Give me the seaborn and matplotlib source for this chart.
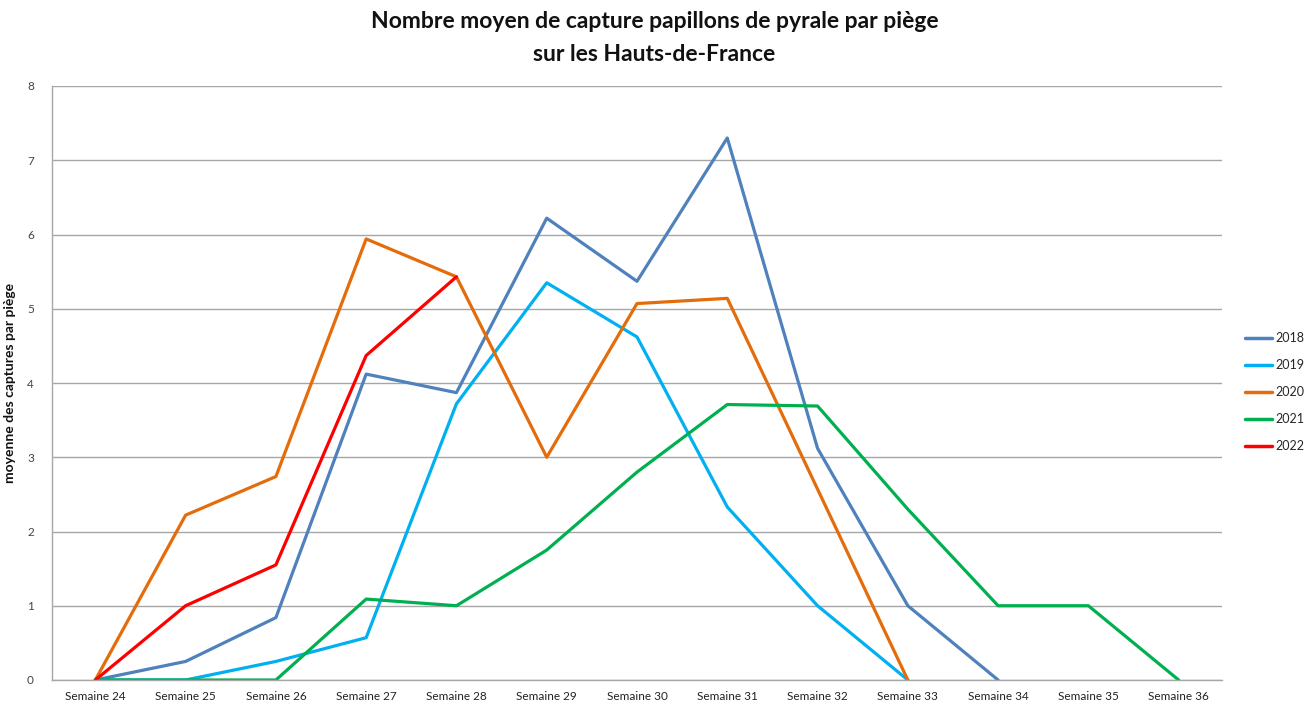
import numpy as np
import pandas as pd
import matplotlib
matplotlib.use('Agg')
import matplotlib.pyplot as plt
import seaborn as sns

# ── DATA ──────────────────────────────────────────────────────────────────────
SEMAINES = [f"Semaine {w}" for w in range(24, 37)]
nan = np.nan
Y2018 = [0, 0.25, 0.84, 4.12, 3.87, 6.22, 5.37, 7.30, 3.12, 1.00, 0, nan, nan]
Y2019 = [0, 0, 0.25, 0.57, 3.72, 5.35, 4.62, 2.33, 1.00, 0, nan, nan, nan]
Y2020 = [0, 2.22, 2.74, 5.94, 5.43, 3.00, 5.07, 5.14, 2.57, 0, nan, nan, nan]
Y2021 = [0, 0, 0, 1.09, 1.00, 1.75, 2.80, 3.71, 3.69, 2.30, 1.00, 1.00, 0]
Y2022 = [0, 1.00, 1.55, 4.37, 5.43, nan, nan, nan, nan, nan, nan, nan, nan]

YEARS = ["2018", "2019", "2020", "2021", "2022"]
COLORS = ["#4F81BD", "#00B0F0", "#E46C0A", "#00B050", "#FF0000"]

series = dict(zip(YEARS, [Y2018, Y2019, Y2020, Y2021, Y2022]))
df = pd.DataFrame([
    {"semaine": i, "annee": yr, "valeur": v}
    for yr, vals in series.items() for i, v in enumerate(vals)
]).dropna()

# ── PLOT ──────────────────────────────────────────────────────────────────────
sns.set_style("white")
plt.rcParams['font.family'] = ['Lato', 'DejaVu Sans']

fig = plt.figure(figsize=(13.09, 7.04), dpi=100)
ax = fig.add_axes([52 / 1309, 1 - 680 / 704, 1170 / 1309, 594 / 704])

sns.lineplot(data=df, x="semaine", y="valeur", hue="annee",
             palette=dict(zip(YEARS, COLORS)), linewidth=2.3,
             estimator=None, sort=False, ax=ax)

ax.set_xlim(-0.48, 12.48)
ax.set_ylim(0, 8)
ax.set_xticks(range(len(SEMAINES)))
ax.set_xticklabels(SEMAINES, fontsize=8.5, color="#222222")
ax.set_yticks(range(0, 9))
ax.set_yticklabels([str(i) for i in range(0, 9)], fontsize=8.5, color="#444444")
ax.tick_params(axis='y', length=5, color="#999999", pad=8)
ax.tick_params(axis='x', length=0, pad=8)
ax.yaxis.grid(True, color="#A6A6A6", linewidth=1.0)
ax.set_axisbelow(True)
for side in ["top", "right"]:
    ax.spines[side].set_visible(False)
for side in ["left", "bottom"]:
    ax.spines[side].set_color("#A6A6A6")
    ax.spines[side].set_linewidth(1.0)

ax.set_xlabel("")
ax.set_ylabel("moyenne des captures par piège", fontsize=10, fontweight='bold',
              labelpad=8, color="#111111")

fig.suptitle("Nombre moyen de capture papillons de pyrale par piège\nsur les Hauts-de-France",
             fontsize=16.5, fontweight='bold', y=0.985, linespacing=1.75,
             color="#111111")

leg = ax.legend(loc="center left", bbox_to_anchor=(1.01, 0.485), frameon=False,
                fontsize=9, handlelength=2.2, handletextpad=0.2,
                labelspacing=1.2)
for line in leg.get_lines():
    line.set_linewidth(2.5)

fig.savefig("out.png", dpi=100)
